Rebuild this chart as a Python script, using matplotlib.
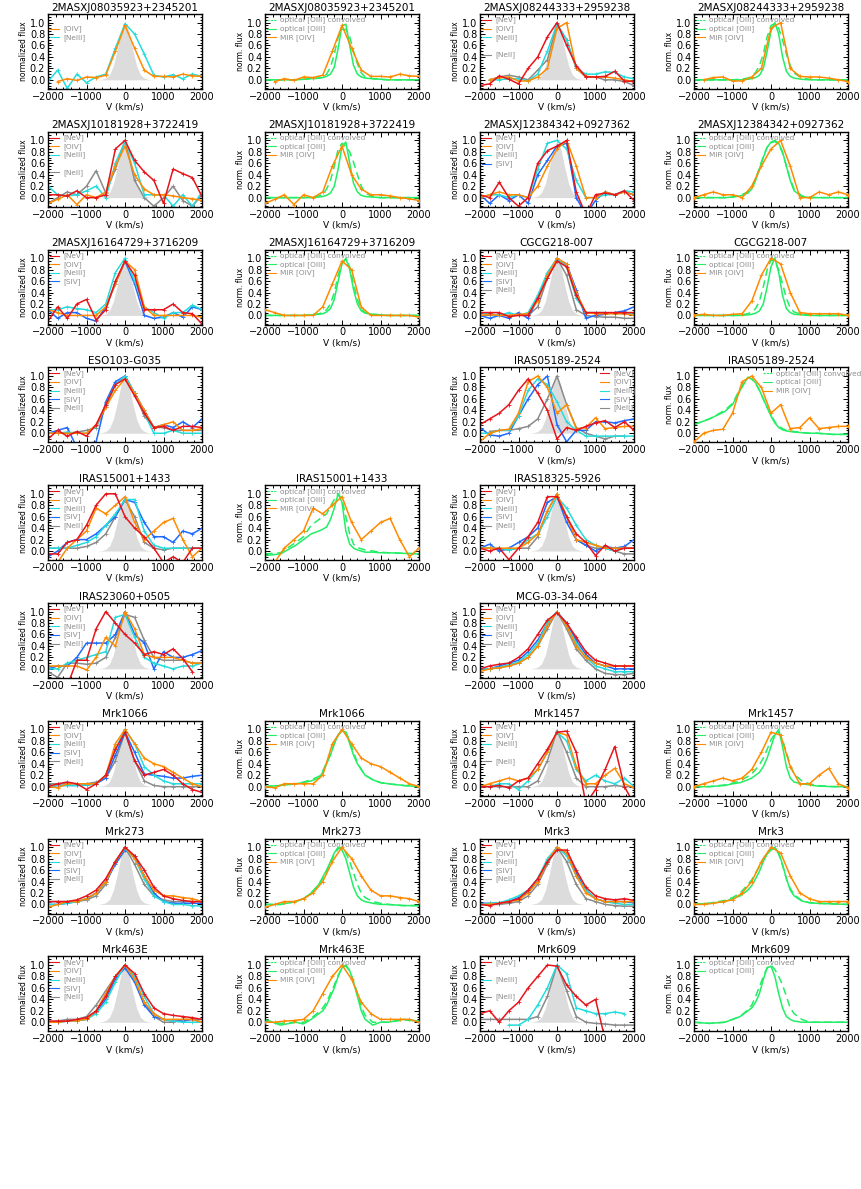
import numpy as np
import matplotlib
matplotlib.use("Agg")
import matplotlib.pyplot as plt
from matplotlib.ticker import MultipleLocator, FormatStrFormatter

nan = np.nan

# velocity grids (km/s)
MIR_V = [-2000, -1750, -1500, -1250, -1000, -750, -500, -250, 0,
         250, 500, 750, 1000, 1250, 1500, 1750, 2000]
OPT_V = [-2000, -1600, -1200, -1000, -800, -600, -500, -400, -300, -200, -100,
         0, 100, 200, 300, 400, 500, 600, 800, 1000, 1200, 1600, 2000]

# instrumental profile (grey shading)
INSTR_V = [-700, -600, -500, -400, -300, -200, -100, 0, 100, 200, 300, 400, 500, 600, 700]
INSTR_F = [0.0, 0.01, 0.03, 0.09, 0.25, 0.53, 0.85, 1.0, 0.85, 0.53, 0.25, 0.09, 0.03, 0.01, 0.0]

# --- 2MASXJ08035923+2345201
J0803_OIV = [nan, -0.03, 0.02, -0.01, 0.05, 0.04, 0.08, 0.5, 0.95, 0.55, 0.17, 0.06, 0.06, 0.05, 0.1, 0.07, 0.06]
J0803_NEIII = [-0.03, 0.17, -0.15, 0.1, -0.05, 0.05, 0.1, 0.55, 0.98, 0.8, 0.45, 0.08, 0.05, 0.09, 0.02, 0.1, 0.06]
J0803_OPT = [0.0, 0.0, 0.0, 0.01, 0.02, 0.03, 0.04, 0.06, 0.1, 0.22, 0.55, 0.95, 0.97, 0.6, 0.25, 0.1, 0.05, 0.03, 0.02, 0.01, 0.0, 0.0, 0.0]
J0803_CONV = [0.0, 0.0, 0.0, 0.01, 0.02, 0.03, 0.05, 0.1, 0.22, 0.45, 0.75, 0.88, 0.88, 0.75, 0.5, 0.28, 0.12, 0.05, 0.02, 0.01, 0.0, 0.0, 0.0]

# --- 2MASXJ08244333+2959238
J0824_NEV = [-0.1, -0.07, 0.07, 0.01, -0.07, 0.2, 0.4, 0.75, 1.0, 0.6, 0.25, 0.05, 0.05, 0.06, 0.15, -0.02, -0.03]
J0824_OIV = [nan, 0.0, 0.04, 0.05, -0.02, -0.02, 0.05, 0.2, 0.9, 1.0, 0.2, 0.06, 0.05, 0.05, 0.03, 0.0, -0.03]
J0824_NEIII = [nan, 0.0, 0.0, 0.02, 0.02, -0.02, 0.1, 0.5, 0.98, 0.7, 0.2, 0.1, 0.1, 0.14, 0.13, 0.05, 0.02]
J0824_NEII = [nan, 0.0, 0.05, 0.08, 0.05, 0.0, 0.17, 0.35, 0.97, 0.7, 0.2, 0.05, 0.05, 0.0, 0.0, -0.03, -0.1]
J0824_OPT = [0, 0, 0, 0, 0, 0.01, 0.02, 0.04, 0.08, 0.2, 0.5, 0.85, 1.0, 0.8, 0.4, 0.15, 0.06, 0.03, 0.01, 0, 0, 0, 0]
J0824_CONV = [0, 0, 0, 0, 0.01, 0.03, 0.06, 0.13, 0.25, 0.45, 0.75, 0.95, 0.98, 0.9, 0.7, 0.45, 0.25, 0.12, 0.03, 0.01, 0, 0, 0]

# --- 2MASXJ10181928+3722419
J1018_NEV = [0.05, 0.05, 0.03, 0.12, 0.0, 0.0, 0.05, 0.85, 1.0, 0.65, 0.45, 0.3, -0.1, 0.5, 0.42, 0.35, 0.02]
J1018_OIV = [-0.1, -0.03, 0.05, -0.12, 0.05, 0.0, 0.1, 0.55, 0.9, 0.4, 0.15, 0.05, 0.05, 0.03, 0.0, -0.02, -0.05]
J1018_NEIII = [0.2, 0.05, 0.03, 0.05, 0.12, 0.2, 0.0, 0.6, 0.98, 0.6, 0.05, 0.05, 0.05, -0.15, 0.05, -0.15, 0.1]
J1018_NEII = [-0.1, 0.0, 0.1, 0.05, 0.2, 0.47, 0.08, 0.5, 1.0, 0.3, 0.0, -0.15, 0.0, 0.2, -0.05, -0.15, 0.05]
J1018_OPT = [0, 0, 0, 0, 0, 0.01, 0.02, 0.04, 0.08, 0.2, 0.5, 0.9, 0.97, 0.6, 0.25, 0.1, 0.04, 0.02, 0.01, 0, 0, 0, 0]
J1018_CONV = [0, 0, 0, 0, 0.01, 0.03, 0.06, 0.15, 0.3, 0.55, 0.85, 0.95, 0.9, 0.8, 0.62, 0.4, 0.2, 0.08, 0.02, 0, 0, 0, 0]

# --- 2MASXJ12384342+0927362
J1238_NEV = [0.05, 0.0, 0.27, 0.0, -0.15, 0.0, 0.6, 0.82, 0.9, 1.0, 0.1, -0.3, 0.05, 0.08, 0.05, 0.12, -0.05]
J1238_OIV = [0.0, 0.05, 0.1, 0.05, 0.05, 0.0, 0.2, 0.55, 0.85, 1.0, 0.55, 0.0, 0.0, 0.1, 0.05, 0.1, 0.05]
J1238_NEIII = [0.0, 0.05, 0.05, 0.0, 0.05, 0.0, 0.5, 0.95, 1.0, 0.85, 0.3, 0.0, 0.0, 0.05, 0.05, 0.12, 0.1]
J1238_SIV = [0.05, -0.1, 0.05, -0.05, 0.05, -0.1, 0.4, 0.65, 0.9, 0.95, 0.0, -0.3, -0.05, 0.1, 0.05, 0.1, 0.05]
J1238_OPT = [0, 0, 0, 0.01, 0.03, 0.08, 0.15, 0.3, 0.5, 0.7, 0.88, 0.97, 1.0, 0.95, 0.8, 0.55, 0.3, 0.12, 0.02, 0.0, 0, 0, 0]
J1238_CONV = [0, 0, 0, 0.01, 0.04, 0.1, 0.18, 0.33, 0.52, 0.72, 0.88, 0.96, 0.98, 0.93, 0.78, 0.55, 0.32, 0.15, 0.03, 0.01, 0, 0, 0]

# --- 2MASXJ16164729+3716209
J1616_NEV = [-0.1, 0.15, -0.05, 0.2, 0.28, -0.08, 0.1, 0.6, 0.95, 0.7, 0.1, 0.1, 0.1, 0.2, 0.05, 0.03, -0.15]
J1616_OIV = [0.1, 0.05, 0.0, 0.0, 0.0, 0.0, 0.15, 0.55, 0.95, 0.8, 0.15, 0.0, 0.0, 0.0, 0.0, 0.0, -0.03]
J1616_NEIII = [0.1, 0.1, 0.15, 0.12, 0.1, 0.05, 0.2, 0.75, 1.0, 0.6, 0.15, 0.05, -0.05, 0.05, 0.05, 0.18, 0.1]
J1616_SIV = [0.1, -0.05, 0.05, 0.05, -0.05, -0.1, 0.15, 0.55, 0.95, 0.55, 0.0, -0.05, -0.03, 0.05, -0.03, 0.15, 0.1]
J1616_OPT = [0, 0, 0, 0, 0.01, 0.02, 0.03, 0.06, 0.12, 0.28, 0.6, 0.9, 1.0, 0.8, 0.45, 0.2, 0.08, 0.04, 0.02, 0.01, 0, 0, 0]
J1616_CONV = [0, 0, 0, 0, 0.01, 0.03, 0.05, 0.1, 0.2, 0.4, 0.7, 0.92, 0.98, 0.85, 0.55, 0.28, 0.12, 0.05, 0.02, 0.01, 0, 0, 0]

# --- CGCG218-007
CGCG_NEV = [0.05, 0.05, 0.05, -0.02, 0.0, 0.0, 0.3, 0.65, 0.95, 0.85, 0.35, 0.05, 0.05, 0.05, 0.05, 0.05, 0.05]
CGCG_OIV = [0.0, 0.02, 0.0, 0.0, 0.02, 0.03, 0.25, 0.7, 1.0, 0.9, 0.4, 0.05, 0.03, 0.03, 0.03, 0.03, 0.0]
CGCG_NEIII = [0.05, 0.03, 0.0, 0.05, 0.0, 0.05, 0.35, 0.75, 1.0, 0.85, 0.3, 0.05, 0.05, 0.05, 0.03, 0.03, 0.03]
CGCG_SIV = [0.0, -0.05, 0.0, -0.05, 0.05, -0.05, 0.3, 0.7, 0.98, 0.9, 0.45, -0.05, 0.0, 0.02, 0.05, 0.08, 0.15]
CGCG_NEII = [0.0, 0.0, 0.02, 0.0, 0.02, 0.0, 0.15, 0.65, 1.0, 0.7, 0.1, 0.0, -0.02, -0.03, -0.03, -0.05, -0.05]
CGCG_OPT = [0, 0, 0, 0, 0, 0.01, 0.02, 0.04, 0.08, 0.2, 0.5, 0.85, 1.0, 0.75, 0.35, 0.12, 0.05, 0.02, 0.01, 0, 0, 0, 0]
CGCG_CONV = [0, 0, 0, 0, 0.01, 0.03, 0.06, 0.12, 0.25, 0.5, 0.8, 0.97, 0.95, 0.8, 0.55, 0.3, 0.13, 0.06, 0.02, 0.01, 0, 0, 0]

# --- ESO103-G035
ESO_NEV = [-0.1, 0.05, -0.05, 0.03, -0.05, 0.15, 0.5, 0.85, 0.95, 0.65, 0.35, 0.1, 0.12, 0.05, 0.12, 0.12, 0.1]
ESO_OIV = [0.0, 0.0, 0.0, 0.0, 0.0, 0.15, 0.45, 0.75, 0.95, 0.7, 0.4, 0.1, 0.15, 0.2, 0.05, 0.05, 0.08]
ESO_NEIII = [0.0, 0.0, 0.02, 0.0, 0.0, 0.12, 0.5, 0.85, 1.0, 0.7, 0.35, 0.0, 0.0, 0.05, 0.0, 0.0, 0.0]
ESO_SIV = [0.0, 0.05, 0.1, -0.25, -0.2, -0.15, 0.55, 0.9, 1.0, 0.7, 0.4, 0.1, 0.15, 0.1, 0.2, 0.1, 0.25]
ESO_NEII = [0.0, 0.0, 0.0, 0.02, 0.05, 0.1, 0.45, 0.85, 1.0, 0.7, 0.3, 0.1, 0.1, 0.05, 0.05, 0.05, 0.05]

# --- IRAS05189-2524
I05189_NEV = [0.15, 0.25, 0.35, 0.5, 0.75, 0.95, 0.7, 0.4, -0.1, 0.1, 0.05, 0.12, 0.18, 0.22, 0.1, 0.2, 0.05]
I05189_OIV = [-0.15, 0.0, 0.05, 0.07, 0.35, 0.9, 1.0, 0.8, 0.35, 0.5, 0.08, 0.1, 0.27, 0.08, 0.1, 0.12, 0.12]
I05189_NEIII = [0.0, 0.0, 0.05, 0.05, 0.3, 0.75, 0.95, 0.85, 0.55, 0.2, 0.05, -0.05, -0.05, -0.05, -0.05, -0.05, -0.05]
I05189_SIV = [0.1, -0.03, -0.05, 0.0, 0.3, 0.6, 0.85, 1.0, 0.15, -0.15, 0.05, 0.05, 0.2, 0.2, 0.18, 0.22, 0.25]
I05189_NEII = [nan, 0.03, 0.05, 0.05, 0.08, 0.12, 0.25, 0.6, 1.0, 0.5, 0.1, 0.0, -0.05, -0.1, -0.05, -0.05, nan]
I05189_OPT = [0.15, 0.25, 0.38, 0.5, 0.75, 0.98, 0.95, 0.88, 0.75, 0.6, 0.45, 0.3, 0.18, 0.1, 0.06, 0.04, 0.03, 0.02, 0.01, 0.0, 0.0, -0.02, -0.02]
I05189_CONV = [0.15, 0.25, 0.4, 0.52, 0.78, 0.97, 0.95, 0.87, 0.75, 0.6, 0.45, 0.32, 0.2, 0.12, 0.08, 0.05, 0.04, 0.03, 0.01, 0.0, 0.0, -0.02, -0.02]

# --- IRAS15001+1433
I15001_NEV = [-0.05, -0.05, 0.15, 0.2, 0.45, 0.8, 1.0, 1.0, 0.6, 0.4, 0.25, 0.05, -0.2, -0.1, -0.2, 0.05, 0.05]
I15001_OIV = [-0.2, -0.2, 0.05, 0.2, 0.35, 0.75, 0.65, 0.8, 0.95, 0.5, 0.2, 0.35, 0.5, 0.57, 0.2, -0.1, 0.05]
I15001_NEIII = [0.05, 0.05, 0.05, 0.1, 0.15, 0.25, 0.45, 0.65, 0.9, 0.9, 0.35, 0.1, 0.05, 0.05, 0.05, 0.05, 0.05]
I15001_SIV = [-0.1, 0.0, 0.15, 0.2, 0.2, 0.3, 0.45, 0.6, 0.9, 0.85, 0.5, 0.25, 0.25, 0.15, 0.35, 0.3, 0.4]
I15001_NEII = [0.05, 0.05, 0.05, 0.05, 0.08, 0.15, 0.3, 0.6, 0.9, 0.6, 0.15, 0.05, 0.02, 0.05, 0.05, 0.05, 0.05]
I15001_OPT = [-0.08, -0.05, 0.1, 0.2, 0.3, 0.35, 0.38, 0.42, 0.55, 0.75, 1.0, 0.85, 0.35, 0.12, 0.05, 0.02, 0.0, -0.02, -0.02, -0.03, -0.03, -0.04, -0.05]
I15001_CONV = [-0.05, -0.03, 0.15, 0.25, 0.45, 0.55, 0.6, 0.65, 0.78, 0.9, 1.0, 0.9, 0.6, 0.3, 0.12, 0.06, 0.04, 0.02, 0.0, -0.02, -0.03, -0.04, -0.05]

# --- IRAS18325-5926
I18325_NEV = [0.05, 0.0, 0.05, -0.15, 0.05, 0.25, 0.5, 0.95, 0.95, 0.6, 0.3, 0.15, -0.08, 0.1, 0.0, 0.05, 0.05]
I18325_OIV = [0.05, 0.05, 0.05, 0.05, 0.05, 0.15, 0.3, 0.7, 1.0, 0.6, 0.2, 0.15, 0.1, 0.05, 0.05, 0.05, 0.05]
I18325_NEIII = [0.05, 0.05, 0.05, 0.02, 0.05, 0.2, 0.3, 0.6, 0.95, 0.75, 0.45, 0.2, 0.1, 0.05, 0.0, 0.05, 0.05]
I18325_SIV = [0.05, 0.12, 0.0, 0.05, 0.15, 0.25, 0.4, 0.85, 0.95, 0.5, 0.2, 0.1, 0.0, 0.08, 0.05, 0.08, 0.2]
I18325_NEII = [0.05, 0.05, 0.02, 0.02, 0.05, 0.05, 0.25, 0.7, 1.0, 0.6, 0.2, 0.1, 0.05, 0.05, 0.0, -0.05, -0.05]

# --- IRAS23060+0505
I23060_NEV = [nan, nan, -0.3, 0.15, 0.15, 0.7, 1.0, 0.8, 0.6, 0.45, 0.25, 0.3, 0.25, 0.35, 0.18, -0.05, nan]
I23060_OIV = [0.05, 0.05, 0.05, 0.05, -0.02, 0.2, 0.55, 0.4, 1.0, 0.7, 0.25, 0.2, 0.2, 0.2, 0.15, 0.1, 0.1]
I23060_NEIII = [0.0, 0.0, 0.1, 0.15, 0.2, 0.25, 0.3, 0.9, 0.95, 0.55, 0.2, 0.1, 0.05, 0.0, 0.05, 0.05, 0.1]
I23060_SIV = [0.0, 0.05, 0.05, 0.2, 0.45, 0.45, 0.45, 0.6, 1.0, 0.6, 0.45, 0.0, 0.3, 0.2, 0.2, 0.25, 0.32]
I23060_NEII = [-0.05, -0.15, 0.1, 0.1, 0.08, 0.1, 0.2, 0.55, 0.95, 0.9, 0.5, 0.2, 0.15, 0.15, 0.15, 0.1, 0.1]

# --- MCG-03-34-064
MCG_NEV = [0.0, 0.05, 0.08, 0.1, 0.2, 0.35, 0.6, 0.85, 0.98, 0.8, 0.55, 0.3, 0.15, 0.1, 0.05, 0.05, 0.05]
MCG_OIV = [-0.05, 0.0, 0.02, 0.05, 0.1, 0.2, 0.4, 0.75, 1.0, 0.75, 0.4, 0.2, 0.1, 0.05, 0.05, 0.05, 0.05]
MCG_NEIII = [0.0, 0.0, 0.03, 0.07, 0.12, 0.25, 0.45, 0.8, 1.0, 0.75, 0.45, 0.2, 0.05, 0.0, -0.05, -0.05, -0.05]
MCG_SIV = [0.0, 0.0, 0.05, 0.1, 0.15, 0.3, 0.5, 0.8, 1.0, 0.8, 0.5, 0.25, 0.1, 0.05, 0.0, 0.0, 0.0]
MCG_NEII = [0.0, 0.0, 0.02, 0.05, 0.1, 0.2, 0.4, 0.7, 1.0, 0.7, 0.35, 0.15, 0.0, -0.08, -0.1, -0.1, -0.08]

# --- Mrk1066
M1066_NEV = [0.0, 0.05, 0.08, 0.05, -0.05, 0.05, 0.2, 0.65, 0.95, 0.45, 0.2, 0.25, 0.3, 0.2, 0.05, -0.05, -0.1]
M1066_OIV = [0.0, -0.02, 0.05, 0.05, 0.05, 0.05, 0.2, 0.75, 1.0, 0.75, 0.5, 0.4, 0.35, 0.25, 0.15, 0.05, 0.0]
M1066_NEIII = [0.0, 0.02, 0.02, 0.02, 0.03, 0.05, 0.2, 0.65, 1.0, 0.75, 0.35, 0.2, 0.1, 0.05, 0.05, 0.05, 0.05]
M1066_SIV = [0.0, 0.02, 0.02, 0.02, 0.03, 0.05, 0.15, 0.55, 0.95, 0.6, 0.22, 0.2, 0.18, 0.15, 0.15, 0.18, 0.2]
M1066_NEII = [0.05, 0.05, 0.05, 0.05, 0.05, 0.08, 0.15, 0.45, 0.95, 0.45, 0.1, 0.02, 0.0, 0.0, 0.0, 0.0, 0.0]
M1066_OPT = [0.0, 0.02, 0.05, 0.07, 0.1, 0.15, 0.25, 0.4, 0.55, 0.75, 0.9, 0.98, 0.95, 0.75, 0.55, 0.4, 0.3, 0.2, 0.12, 0.07, 0.05, 0.02, 0.0]
M1066_CONV = [0.0, 0.02, 0.05, 0.08, 0.12, 0.18, 0.27, 0.42, 0.57, 0.75, 0.9, 0.97, 0.95, 0.8, 0.6, 0.42, 0.3, 0.2, 0.12, 0.07, 0.05, 0.02, 0.0]

# --- Mrk1457
M1457_NEV = [0.0, 0.0, 0.02, -0.02, 0.1, 0.15, 0.4, 0.65, 0.95, 0.97, 0.6, -0.3, -0.05, 0.3, 0.7, 0.0, -0.3]
M1457_OIV = [0.0, 0.05, 0.1, 0.15, 0.1, 0.15, 0.3, 0.6, 0.95, 0.9, 0.35, 0.05, 0.05, 0.2, 0.32, 0.05, -0.02]
M1457_NEIII = [nan, 0.0, 0.05, 0.05, -0.05, 0.1, 0.3, 0.6, 0.95, 0.8, 0.3, 0.1, 0.2, 0.1, 0.05, 0.15, 0.0]
M1457_NEII = [0.0, 0.0, 0.0, 0.0, 0.0, 0.0, 0.1, 0.45, 0.98, 0.6, 0.15, 0.0, 0.0, 0.0, 0.02, 0.0, 0.0]
M1457_OPT = [0.0, 0.0, 0.02, 0.05, 0.07, 0.12, 0.15, 0.2, 0.25, 0.35, 0.5, 0.7, 0.9, 1.0, 0.7, 0.35, 0.15, 0.08, 0.05, 0.03, 0.01, 0.0, 0.0]
M1457_CONV = [0.0, 0.0, 0.03, 0.06, 0.1, 0.18, 0.22, 0.3, 0.38, 0.5, 0.65, 0.82, 0.92, 0.95, 0.82, 0.6, 0.38, 0.22, 0.1, 0.05, 0.02, 0.0, 0.0]

# --- Mrk273
M273_NEV = [0.05, 0.05, 0.05, 0.08, 0.15, 0.25, 0.45, 0.75, 1.0, 0.85, 0.6, 0.3, 0.15, 0.1, 0.07, 0.05, 0.05]
M273_OIV = [-0.05, 0.0, 0.05, 0.05, 0.1, 0.2, 0.4, 0.75, 1.0, 0.8, 0.5, 0.25, 0.15, 0.15, 0.12, 0.1, 0.05]
M273_NEIII = [0.0, 0.0, 0.02, 0.05, 0.1, 0.2, 0.4, 0.75, 0.98, 0.8, 0.45, 0.15, 0.05, 0.0, 0.0, -0.02, -0.03]
M273_SIV = [0.0, 0.0, 0.02, 0.05, 0.1, 0.2, 0.4, 0.7, 0.95, 0.85, 0.5, 0.2, 0.05, 0.02, 0.02, 0.02, 0.02]
M273_NEII = [0.05, 0.05, 0.05, 0.05, 0.08, 0.15, 0.35, 0.75, 1.0, 0.7, 0.35, 0.15, 0.08, 0.05, 0.05, 0.05, 0.05]
M273_OPT = [0.0, 0.0, 0.05, 0.1, 0.2, 0.35, 0.48, 0.6, 0.75, 0.9, 1.0, 0.95, 0.8, 0.55, 0.3, 0.15, 0.08, 0.05, 0.02, 0.0, 0.0, -0.02, -0.02]
M273_CONV = [0.0, 0.0, 0.05, 0.1, 0.2, 0.35, 0.45, 0.58, 0.72, 0.87, 0.97, 1.0, 0.9, 0.75, 0.55, 0.35, 0.2, 0.12, 0.05, 0.02, 0.0, -0.02, -0.02]

# --- Mrk3
M3_NEV = [0.0, -0.02, 0.02, 0.05, 0.1, 0.25, 0.45, 0.75, 0.95, 0.95, 0.6, 0.3, 0.15, 0.1, 0.08, 0.1, 0.07]
M3_OIV = [0.0, 0.0, 0.02, 0.05, 0.08, 0.2, 0.4, 0.75, 1.0, 0.9, 0.5, 0.2, 0.1, 0.05, 0.05, 0.05, 0.05]
M3_NEIII = [0.0, 0.02, 0.03, 0.08, 0.15, 0.25, 0.45, 0.8, 1.0, 0.85, 0.5, 0.25, 0.1, 0.05, 0.02, 0.0, 0.0]
M3_SIV = [0.02, 0.02, 0.03, 0.05, 0.12, 0.22, 0.45, 0.75, 0.98, 0.9, 0.55, 0.25, 0.1, 0.05, 0.05, 0.05, 0.03]
M3_NEII = [0.0, 0.0, 0.0, 0.02, 0.05, 0.15, 0.35, 0.7, 1.0, 0.75, 0.35, 0.1, 0.05, 0.0, -0.02, -0.03, -0.03]
M3_OPT = [0.0, 0.02, 0.05, 0.1, 0.15, 0.25, 0.33, 0.45, 0.58, 0.75, 0.88, 0.95, 1.0, 0.9, 0.7, 0.45, 0.25, 0.15, 0.06, 0.03, 0.02, 0.01, 0.0]
M3_CONV = [0.0, 0.02, 0.07, 0.12, 0.2, 0.35, 0.43, 0.55, 0.66, 0.8, 0.9, 0.96, 0.98, 0.88, 0.68, 0.45, 0.28, 0.17, 0.07, 0.03, 0.02, 0.01, 0.0]

# --- Mrk463E
M463_NEV = [0.02, 0.02, 0.02, 0.05, 0.08, 0.2, 0.45, 0.8, 1.0, 0.85, 0.5, 0.25, 0.15, 0.12, 0.1, 0.08, 0.05]
M463_OIV = [0.0, 0.0, 0.02, 0.03, 0.05, 0.2, 0.5, 0.8, 1.0, 0.75, 0.35, 0.15, 0.05, 0.05, 0.05, 0.05, 0.0]
M463_NEIII = [0.0, 0.0, 0.02, 0.03, 0.05, 0.15, 0.35, 0.7, 1.0, 0.8, 0.45, 0.15, 0.05, 0.02, 0.0, 0.0, 0.0]
M463_SIV = [0.0, 0.0, 0.02, 0.03, 0.05, 0.18, 0.4, 0.75, 0.95, 0.7, 0.3, 0.1, 0.05, 0.02, 0.02, 0.05, 0.0]
M463_NEII = [0.0, 0.02, 0.05, 0.05, 0.1, 0.3, 0.55, 0.8, 1.0, 0.75, 0.35, 0.1, 0.0, 0.0, 0.05, 0.05, 0.05]
M463_OPT = [0.05, -0.05, 0.0, -0.03, 0.05, 0.15, 0.2, 0.3, 0.45, 0.6, 0.8, 0.95, 1.0, 0.9, 0.7, 0.45, 0.2, 0.05, -0.05, 0.0, 0.0, 0.05, 0.02]
M463_CONV = [0.02, -0.02, 0.0, 0.0, 0.07, 0.18, 0.25, 0.35, 0.5, 0.65, 0.82, 0.95, 0.98, 0.9, 0.72, 0.5, 0.28, 0.12, 0.0, 0.0, 0.0, 0.04, 0.02]

# --- Mrk609
M609_NEV = [0.15, 0.2, 0.0, 0.2, 0.35, 0.6, 0.8, 1.0, 0.98, 0.65, 0.45, 0.3, 0.4, -0.3, nan, nan, nan]
M609_NEIII = [nan, nan, nan, -0.05, -0.05, 0.05, 0.3, 0.6, 1.0, 0.85, 0.25, 0.2, 0.15, 0.15, 0.18, 0.15, nan]
M609_NEII = [0.05, 0.05, 0.05, 0.05, 0.05, 0.05, 0.1, 0.45, 1.0, 0.55, 0.1, 0.0, -0.02, -0.03, -0.05, -0.05, -0.05]
M609_OPT = [0.0, -0.02, 0.0, 0.05, 0.1, 0.2, 0.25, 0.35, 0.5, 0.75, 0.95, 0.98, 0.8, 0.5, 0.25, 0.1, 0.05, 0.02, 0.0, 0.0, 0.0, 0.0, 0.0]
M609_CONV = [0.0, -0.02, 0.0, 0.05, 0.1, 0.22, 0.3, 0.45, 0.62, 0.8, 0.95, 1.0, 0.92, 0.8, 0.65, 0.45, 0.25, 0.15, 0.05, 0.0, 0.0, 0.0, 0.0]

COLORS = {"NeV": "#e8141c", "OIV": "#ff8a00", "NeIII": "#25dcdc",
          "SIV": "#1f6bff", "NeII": "#8a8a8a"}
SLOTS = ["NeV", "OIV", "NeIII", "SIV", "NeII"]
DRAW_ORDER = ["NeII", "SIV", "NeIII", "OIV", "NeV"]
GREEN = "#22ee66"
LEG_GRAY = "#8c8c8c"

# (row, col, title, kind, data, legend on right?)
PANELS = [
    (0, 0, "2MASXJ08035923+2345201", "mir", {"OIV": J0803_OIV, "NeIII": J0803_NEIII}, False),
    (0, 1, "2MASXJ08035923+2345201", "opt", (J0803_OPT, J0803_CONV, J0803_OIV), False),
    (0, 2, "2MASXJ08244333+2959238", "mir", {"NeV": J0824_NEV, "OIV": J0824_OIV, "NeIII": J0824_NEIII, "NeII": J0824_NEII}, False),
    (0, 3, "2MASXJ08244333+2959238", "opt", (J0824_OPT, J0824_CONV, J0824_OIV), False),
    (1, 0, "2MASXJ10181928+3722419", "mir", {"NeV": J1018_NEV, "OIV": J1018_OIV, "NeIII": J1018_NEIII, "NeII": J1018_NEII}, False),
    (1, 1, "2MASXJ10181928+3722419", "opt", (J1018_OPT, J1018_CONV, J1018_OIV), False),
    (1, 2, "2MASXJ12384342+0927362", "mir", {"NeV": J1238_NEV, "OIV": J1238_OIV, "NeIII": J1238_NEIII, "SIV": J1238_SIV}, False),
    (1, 3, "2MASXJ12384342+0927362", "opt", (J1238_OPT, J1238_CONV, J1238_OIV), False),
    (2, 0, "2MASXJ16164729+3716209", "mir", {"NeV": J1616_NEV, "OIV": J1616_OIV, "NeIII": J1616_NEIII, "SIV": J1616_SIV}, False),
    (2, 1, "2MASXJ16164729+3716209", "opt", (J1616_OPT, J1616_CONV, J1616_OIV), False),
    (2, 2, "CGCG218-007", "mir", {"NeV": CGCG_NEV, "OIV": CGCG_OIV, "NeIII": CGCG_NEIII, "SIV": CGCG_SIV, "NeII": CGCG_NEII}, False),
    (2, 3, "CGCG218-007", "opt", (CGCG_OPT, CGCG_CONV, CGCG_OIV), False),
    (3, 0, "ESO103-G035", "mir", {"NeV": ESO_NEV, "OIV": ESO_OIV, "NeIII": ESO_NEIII, "SIV": ESO_SIV, "NeII": ESO_NEII}, False),
    (3, 2, "IRAS05189-2524", "mir", {"NeV": I05189_NEV, "OIV": I05189_OIV, "NeIII": I05189_NEIII, "SIV": I05189_SIV, "NeII": I05189_NEII}, True),
    (3, 3, "IRAS05189-2524", "opt", (I05189_OPT, I05189_CONV, I05189_OIV), True),
    (4, 0, "IRAS15001+1433", "mir", {"NeV": I15001_NEV, "OIV": I15001_OIV, "NeIII": I15001_NEIII, "SIV": I15001_SIV, "NeII": I15001_NEII}, False),
    (4, 1, "IRAS15001+1433", "opt", (I15001_OPT, I15001_CONV, I15001_OIV), False),
    (4, 2, "IRAS18325-5926", "mir", {"NeV": I18325_NEV, "OIV": I18325_OIV, "NeIII": I18325_NEIII, "SIV": I18325_SIV, "NeII": I18325_NEII}, False),
    (5, 0, "IRAS23060+0505", "mir", {"NeV": I23060_NEV, "OIV": I23060_OIV, "NeIII": I23060_NEIII, "SIV": I23060_SIV, "NeII": I23060_NEII}, False),
    (5, 2, "MCG-03-34-064", "mir", {"NeV": MCG_NEV, "OIV": MCG_OIV, "NeIII": MCG_NEIII, "SIV": MCG_SIV, "NeII": MCG_NEII}, False),
    (6, 0, "Mrk1066", "mir", {"NeV": M1066_NEV, "OIV": M1066_OIV, "NeIII": M1066_NEIII, "SIV": M1066_SIV, "NeII": M1066_NEII}, False),
    (6, 1, "Mrk1066", "opt", (M1066_OPT, M1066_CONV, M1066_OIV), False),
    (6, 2, "Mrk1457", "mir", {"NeV": M1457_NEV, "OIV": M1457_OIV, "NeIII": M1457_NEIII, "NeII": M1457_NEII}, False),
    (6, 3, "Mrk1457", "opt", (M1457_OPT, M1457_CONV, M1457_OIV), False),
    (7, 0, "Mrk273", "mir", {"NeV": M273_NEV, "OIV": M273_OIV, "NeIII": M273_NEIII, "SIV": M273_SIV, "NeII": M273_NEII}, False),
    (7, 1, "Mrk273", "opt", (M273_OPT, M273_CONV, M273_OIV), False),
    (7, 2, "Mrk3", "mir", {"NeV": M3_NEV, "OIV": M3_OIV, "NeIII": M3_NEIII, "SIV": M3_SIV, "NeII": M3_NEII}, False),
    (7, 3, "Mrk3", "opt", (M3_OPT, M3_CONV, M3_OIV), False),
    (8, 0, "Mrk463E", "mir", {"NeV": M463_NEV, "OIV": M463_OIV, "NeIII": M463_NEIII, "SIV": M463_SIV, "NeII": M463_NEII}, False),
    (8, 1, "Mrk463E", "opt", (M463_OPT, M463_CONV, M463_OIV), False),
    (8, 2, "Mrk609", "mir", {"NeV": M609_NEV, "NeIII": M609_NEIII, "NeII": M609_NEII}, False),
    (8, 3, "Mrk609", "opt", (M609_OPT, M609_CONV, None), False),
]

# layout in pixels
FW, FH = 861, 1189
LEFTS = [48, 265, 480, 694]
AX_W, AX_H = 154, 75
TOP0, ROW_STEP = 14, 117.8
SLOT_Y = [0.92, 0.805, 0.69, 0.575, 0.46]

plt.rcParams["font.family"] = ["DejaVu Sans"]


def style_axes(ax, title, ylabel):
    ax.set_xlim(-2000, 2000)
    ax.set_ylim(-0.16, 1.15)
    ax.xaxis.set_major_locator(MultipleLocator(1000))
    ax.xaxis.set_minor_locator(MultipleLocator(200))
    ax.yaxis.set_major_locator(MultipleLocator(0.2))
    ax.yaxis.set_minor_locator(MultipleLocator(0.05))
    ax.yaxis.set_major_formatter(FormatStrFormatter("%.1f"))
    ax.tick_params(which="both", direction="in", top=True, right=True,
                   width=0.7, labelsize=7, pad=2)
    ax.tick_params(which="major", length=3.5)
    ax.tick_params(which="minor", length=1.8)
    for s in ax.spines.values():
        s.set_linewidth(1.0)
    ax.set_title(title, fontsize=7.5, pad=2.5)
    ax.set_xlabel("V (km/s)", fontsize=6.5, labelpad=1)
    ax.set_ylabel(ylabel, fontsize=5.5, labelpad=1)


def legend_row(ax, slot, color, text, right, dashed=False, wide=False):
    y = SLOT_Y[slot]
    if right:
        x0 = 0.45 if wide else 0.78
    else:
        x0 = 0.015
    ls = (0, (2, 1)) if dashed else "-"
    ax.plot([x0, x0 + 0.055], [y, y], transform=ax.transAxes, color=color,
            lw=0.8, ls=ls, clip_on=False)
    ax.text(x0 + 0.085, y, text, transform=ax.transAxes, color=LEG_GRAY,
            fontsize=5.3, va="center", ha="left", clip_on=False)


fig = plt.figure(figsize=(FW / 100, FH / 100), dpi=100)

for row, col, title, kind, data, right in PANELS:
    top = TOP0 + row * ROW_STEP
    rect = [LEFTS[col] / FW, 1 - (top + AX_H) / FH, AX_W / FW, AX_H / FH]
    ax = fig.add_axes(rect)
    if kind == "mir":
        style_axes(ax, title, "normalized flux")
        ax.fill_between(INSTR_V, INSTR_F, 0, color="#dcdcdc", lw=0, zorder=1)
        for name in DRAW_ORDER:
            if name in data:
                ax.plot(MIR_V, data[name], color=COLORS[name], lw=1.1,
                        marker="+", ms=2.5, mew=0.6, zorder=2)
        for i, name in enumerate(SLOTS):
            if name in data:
                legend_row(ax, i, COLORS[name], "[%s]" % name, right)
    else:
        style_axes(ax, title, "norm. flux")
        opt, conv, oiv = data
        ax.plot(OPT_V, conv, color=GREEN, lw=1.1, ls=(0, (5, 3)), zorder=2)
        ax.plot(OPT_V, opt, color=GREEN, lw=1.1, zorder=2)
        if oiv is not None:
            ax.plot(MIR_V, oiv, color=COLORS["OIV"], lw=1.1,
                    marker="+", ms=2.5, mew=0.6, zorder=3)
        legend_row(ax, 0, GREEN, "optical [OIII] convolved", right, dashed=True, wide=True)
        legend_row(ax, 1, GREEN, "optical [OIII]", right, wide=True)
        if oiv is not None:
            legend_row(ax, 2, COLORS["OIV"], "MIR [OIV]", right, wide=True)

fig.savefig("out.png", dpi=100)
